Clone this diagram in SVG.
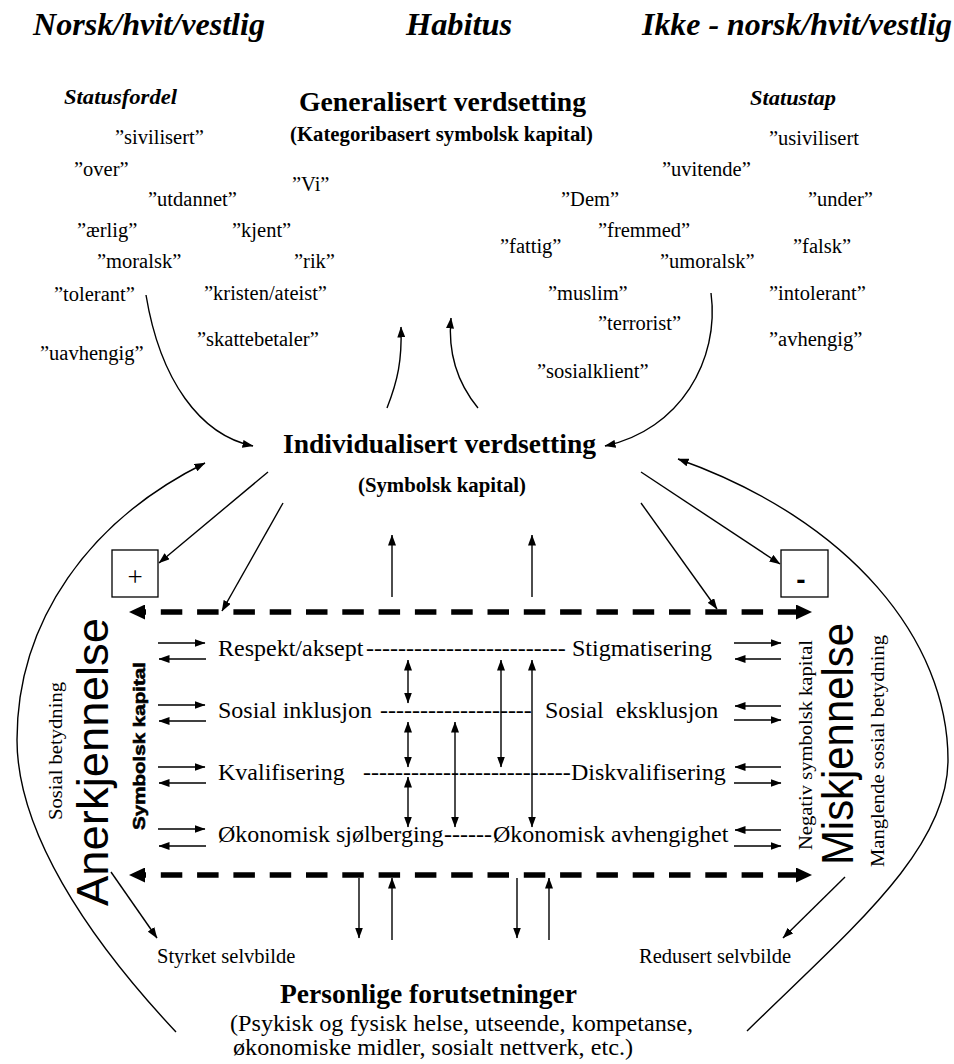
<svg xmlns="http://www.w3.org/2000/svg" width="954" height="1064" viewBox="0 0 954 1064">
<style>
text{fill:#000}
.ti{font-family:"Liberation Serif","Times New Roman",serif;font-weight:bold;font-style:italic;font-size:32px}
.hd{font-family:"Liberation Serif","Times New Roman",serif;font-weight:bold;font-size:27.5px}
.sub{font-family:"Liberation Serif","Times New Roman",serif;font-weight:bold;font-size:20.5px}
.st{font-family:"Liberation Serif","Times New Roman",serif;font-weight:bold;font-style:italic;font-size:22px}
.w{font-family:"Liberation Serif","Times New Roman",serif;font-size:20.5px}
.row{font-family:"Liberation Serif","Times New Roman",serif;font-size:24px;white-space:pre}
.big{font-family:"Liberation Sans",Arial,sans-serif;font-size:45px}
.sb{font-family:"Liberation Sans",Arial,sans-serif;font-weight:900;font-size:17px;stroke:#000;stroke-width:0.6}
.vs{font-family:"Liberation Serif","Times New Roman",serif;font-size:19px}
.ln{fill:none;stroke:#000;stroke-width:1.4}
.ar{marker-end:url(#ah)}
.dbl{marker-start:url(#ah);marker-end:url(#ah)}
.dash{fill:none;stroke:#000;stroke-width:5.5;stroke-dasharray:21.5 14.8;stroke-dashoffset:19.5;marker-start:url(#bh);marker-end:url(#bh)}
.box{fill:#fff;stroke:#000;stroke-width:1.3}
</style>
<defs>
<marker id="ah" viewBox="0 0 11 8" refX="10.5" refY="4" markerWidth="11" markerHeight="8" markerUnits="userSpaceOnUse" orient="auto-start-reverse"><path d="M0,0 L11,4 L0,8 z" fill="#000"/></marker>
<marker id="bh" viewBox="0 0 16 15" refX="1" refY="7.5" markerWidth="16" markerHeight="15" markerUnits="userSpaceOnUse" orient="auto-start-reverse"><path d="M0,0 L16,7.5 L0,15 z" fill="#000"/></marker>
</defs>

<g id="titles">
<text class="ti" x="33" y="35" textLength="232" lengthAdjust="spacingAndGlyphs">Norsk/hvit/vestlig</text>
<text class="ti" x="406" y="35" textLength="106" lengthAdjust="spacingAndGlyphs">Habitus</text>
<text class="ti" x="642" y="35" textLength="310" lengthAdjust="spacingAndGlyphs">Ikke - norsk/hvit/vestlig</text>
</g>

<g id="generalisert">
<text class="hd" x="299" y="111" textLength="287" lengthAdjust="spacingAndGlyphs">Generalisert verdsetting</text>
<text class="sub" x="290" y="141" textLength="303" lengthAdjust="spacingAndGlyphs">(Kategoribasert symbolsk kapital)</text>
</g>

<g id="statusfordel">
<text class="st" x="64" y="104" textLength="113" lengthAdjust="spacingAndGlyphs">Statusfordel</text>
<text class="w" x="115" y="144">”sivilisert”</text>
<text class="w" x="74" y="176">”over”</text>
<text class="w" x="292" y="191">”Vi”</text>
<text class="w" x="148" y="206">”utdannet”</text>
<text class="w" x="77" y="237">”ærlig”</text>
<text class="w" x="232" y="237">”kjent”</text>
<text class="w" x="97" y="268">”moralsk”</text>
<text class="w" x="294" y="268">”rik”</text>
<text class="w" x="54" y="301">”tolerant”</text>
<text class="w" x="204" y="300">”kristen/ateist”</text>
<text class="w" x="197" y="346">”skattebetaler”</text>
<text class="w" x="40" y="360">”uavhengig”</text>
</g>

<g id="statustap">
<text class="st" x="750" y="105" textLength="86" lengthAdjust="spacingAndGlyphs">Statustap</text>
<text class="w" x="769" y="145">”usivilisert</text>
<text class="w" x="662" y="176">”uvitende”</text>
<text class="w" x="561" y="206">”Dem”</text>
<text class="w" x="808" y="206">”under”</text>
<text class="w" x="598" y="237">”fremmed”</text>
<text class="w" x="500" y="253">”fattig”</text>
<text class="w" x="793" y="253">”falsk”</text>
<text class="w" x="660" y="268">”umoralsk”</text>
<text class="w" x="548" y="300">”muslim”</text>
<text class="w" x="769" y="300">”intolerant”</text>
<text class="w" x="598" y="330">”terrorist”</text>
<text class="w" x="769" y="346">”avhengig”</text>
<text class="w" x="537" y="378">”sosialklient”</text>
</g>

<g id="individualisert">
<text class="hd" x="283" y="453" textLength="313" lengthAdjust="spacingAndGlyphs">Individualisert verdsetting</text>
<text class="sub" x="358" y="492" textLength="168" lengthAdjust="spacingAndGlyphs">(Symbolsk kapital)</text>
</g>

<g id="plus-box">
<rect class="box" x="112" y="550" width="46" height="47"/>
<text x="135" y="586" text-anchor="middle" style="font-family:'Liberation Serif',serif;font-size:27px">+</text>
</g>
<g id="minus-box">
<rect class="box" x="781" y="550" width="47" height="47"/>
<text x="801" y="589" text-anchor="middle" style="font-family:'Liberation Sans',Arial,sans-serif;font-weight:bold;font-size:28px">-</text>
</g>

<g id="anerkjennelse">
<text class="big" transform="translate(108,906) rotate(-90)" textLength="288" lengthAdjust="spacingAndGlyphs">Anerkjennelse</text>
<text class="vs" transform="translate(62,820) rotate(-90)" textLength="138" lengthAdjust="spacingAndGlyphs">Sosial betydning</text>
<text class="sb" transform="translate(145,830) rotate(-90)" textLength="168" lengthAdjust="spacingAndGlyphs">Symbolsk kapital</text>
</g>

<g id="miskjennelse">
<text class="vs" transform="translate(812,850) rotate(-90)" textLength="210" lengthAdjust="spacingAndGlyphs">Negativ symbolsk kapital</text>
<text class="big" transform="translate(853,865) rotate(-90)" textLength="242" lengthAdjust="spacingAndGlyphs">Miskjennelse</text>
<text class="vs" transform="translate(884,867) rotate(-90)" textLength="232" lengthAdjust="spacingAndGlyphs">Manglende sosial betydning</text>
</g>

<g id="rows">
<text class="row" y="656"><tspan x="218">Respekt/aksept</tspan><tspan x="366">-------------------------</tspan><tspan x="572">Stigmatisering</tspan></text>
<text class="row" y="718"><tspan x="218">Sosial inklusjon</tspan><tspan x="380">-------------------</tspan><tspan x="545">Sosial  eksklusjon</tspan></text>
<text class="row" y="780"><tspan x="218">Kvalifisering</tspan><tspan x="363">--------------------------</tspan><tspan x="571">Diskvalifisering</tspan></text>
<text class="row" y="842"><tspan x="218">Økonomisk sjølberging</tspan><tspan x="444">------</tspan><tspan x="493">Økonomisk avhengighet</tspan></text>
</g>

<g id="selvbilde">
<text class="w" x="157" y="963">Styrket selvbilde</text>
<text class="w" x="639" y="963">Redusert selvbilde</text>
</g>

<g id="personlige">
<text class="hd" x="280" y="1003" textLength="297" lengthAdjust="spacingAndGlyphs">Personlige forutsetninger</text>
<text class="row" x="230" y="1031" textLength="463" lengthAdjust="spacingAndGlyphs">(Psykisk og fysisk helse, utseende, kompetanse,</text>
<text class="row" x="233" y="1055" textLength="400" lengthAdjust="spacingAndGlyphs">økonomiske midler, sosialt nettverk, etc.)</text>
</g>

<g id="connectors">
<path class="ln ar" d="M146,295 C160,380 200,435 253,446"/>
<path class="ln ar" d="M711,293 C720,360 680,430 605,446"/>
<path class="ln ar" d="M387,408 C398,380 402,360 401,327"/>
<path class="ln ar" d="M478,408 C455,380 448,350 451,318"/>
<path class="ln ar" d="M176,1032 C85,935 17,830 17,740 C17,620 90,520 205,463"/>
<path class="ln ar" d="M747,1031 C850,930 948,850 948,760 C948,640 850,520 678,459"/>
<path class="ln ar" d="M268,472 L159,563"/>
<path class="ln ar" d="M283,503 L222,611"/>
<path class="ln ar" d="M641,472 L780,564"/>
<path class="ln ar" d="M641,503 L717,609"/>
<path class="ln ar" d="M392,597 V535"/>
<path class="ln ar" d="M532,597 V535"/>
<path class="dash" d="M144,612 H797"/>
<path class="dash" d="M144,875 H797"/>
<path class="ln ar" d="M158,643 H205"/>
<path class="ln ar" d="M206,659 H159"/>
<path class="ln ar" d="M158,705 H205"/>
<path class="ln ar" d="M206,721 H159"/>
<path class="ln ar" d="M158,767 H205"/>
<path class="ln ar" d="M206,783 H159"/>
<path class="ln ar" d="M158,829 H205"/>
<path class="ln ar" d="M206,846 H159"/>
<path class="ln ar" d="M734,643 H781"/>
<path class="ln ar" d="M781,659 H735"/>
<path class="ln ar" d="M781,706 H735"/>
<path class="ln ar" d="M734,720 H781"/>
<path class="ln ar" d="M781,767 H735"/>
<path class="ln ar" d="M734,783 H781"/>
<path class="ln ar" d="M781,830 H735"/>
<path class="ln ar" d="M734,846 H781"/>
<path class="ln dbl" d="M408,660 V703"/>
<path class="ln dbl" d="M408,722 V767"/>
<path class="ln dbl" d="M408,777 V827"/>
<path class="ln dbl" d="M455,722 V827"/>
<path class="ln dbl" d="M501,660 V767"/>
<path class="ln dbl" d="M532,660 V827"/>
<path class="ln ar" d="M359,878 V938"/>
<path class="ln ar" d="M392,940 V878"/>
<path class="ln ar" d="M517,878 V938"/>
<path class="ln ar" d="M549,940 V878"/>
<path class="ln ar" d="M111,872 L157,938"/>
<path class="ln ar" d="M845,877 L783,938"/>
</g>
</svg>
